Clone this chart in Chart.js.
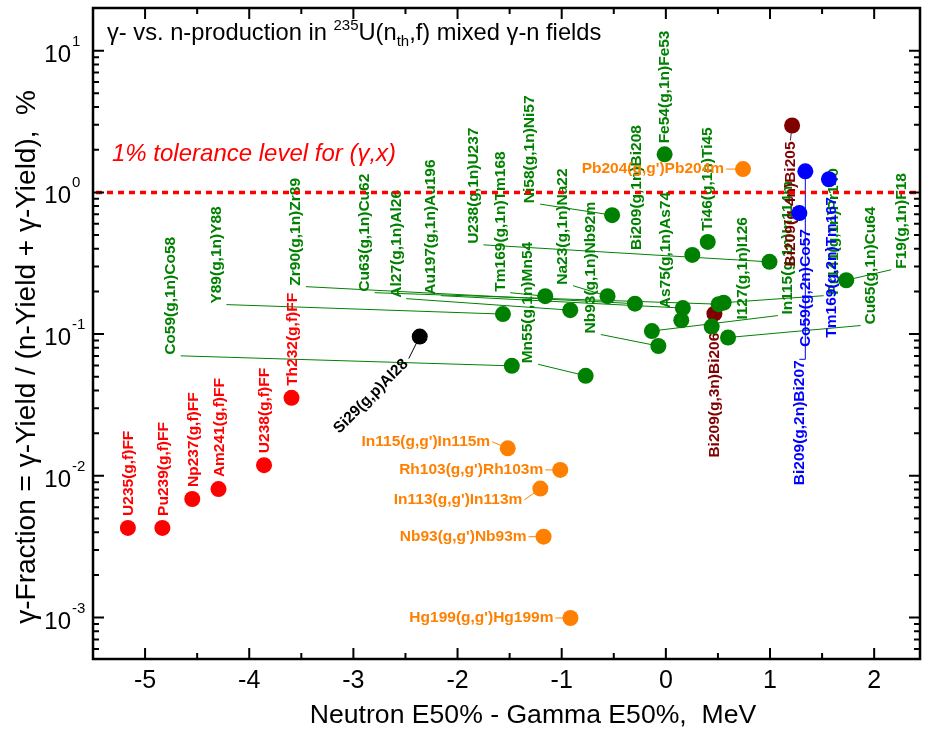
<!DOCTYPE html>
<html>
<head>
<meta charset="utf-8">
<script src="https://cdn.jsdelivr.net/npm/chart.js@4.4.0/dist/chart.umd.min.js"></script>
<style>
html, body { margin: 0; padding: 0; background: #fff; }
canvas { display: block; }
</style>
</head>
<body>
<canvas id="chart" width="928" height="729"></canvas>
<script>
// gamma fraction (%) against E50% difference (MeV)

var fissionNames = ['U235(g,f)FF', 'Pu239(g,f)FF', 'Np237(g,f)FF', 'Am241(g,f)FF', 'U238(g,f)FF', 'Th232(g,f)FF'];
var fissionShift = [-5.165, -4.834, -4.547, -4.295, -3.858, -3.594];
var fissionFrac = [0.00429, 0.00429, 0.00686, 0.00806, 0.0119, 0.0355];

var gnNames = ['Co59(g,1n)Co58', 'Y89(g,1n)Y88', 'Zr90(g,1n)Zr89', 'Cu63(g,1n)Cu62', 'Al27(g,1n)Al26',
    'Au197(g,1n)Au196', 'U238(g,1n)U237', 'Tm169(g,1n)Tm168', 'Ni58(g,1n)Ni57', 'Mn55(g,1n)Mn54',
    'Na23(g,1n)Na22', 'Nb93(g,1n)Nb92m', 'Bi209(g,1n)Bi208', 'Fe54(g,1n)Fe53', 'As75(g,1n)As74',
    'Ti46(g,1n)Ti45', 'I127(g,1n)I126', 'In115(g,1n)In114m', 'Cu65(g,1n)Cu64', 'F19(g,1n)F18',
    'Pr141(g,1n)Pr140'];
var gnShift = [-1.479, -1.564, -0.297, 0.507, -0.918, 0.163, 0.995, -1.158, -0.516, -0.770,
    -0.560, -0.072, 0.254, -0.012, 0.148, 0.402, 0.440, -0.134, 0.597, 1.732, 0.555];
var gnFrac = [0.0597, 0.1384, 0.164, 0.1626, 0.1476, 0.1527, 0.3235, 0.1851, 0.691, 0.0508,
    0.1851, 0.0824, 0.362, 1.855, 0.1252, 0.447, 0.1130, 0.1051, 0.0946, 0.240, 0.1666];

var gpNames = ['Si29(g,p)Al28'];
var gpShift = [-2.363];
var gpFrac = [0.0961];

var isoNames = ["In115(g,g')In115m", "Rh103(g,g')Rh103m", "In113(g,g')In113m", "Nb93(g,g')Nb93m",
    "Hg199(g,g')Hg199m", "Pb204(g,g')Pb204m"];
var isoShift = [-1.518, -1.014, -1.205, -1.174, -0.916, 0.741];
var isoFrac = [0.01563, 0.01101, 0.00813, 0.00372, 0.000993, 1.46];

var bi34Names = ['Bi209(g,4n)Bi205', 'Bi209(g,3n)Bi206'];
var bi34Shift = [1.212, 0.466];
var bi34Frac = [2.965, 0.1394];

var g2nNames = ['Bi209(g,2n)Bi207', 'Co59(g,2n)Co57', 'Tm169(g,2n)Tm167'];
var g2nShift = [1.339, 1.282, 1.566];
var g2nFrac = [1.409, 0.714, 1.238];

var xTicks = [-5, -4, -3, -2, -1, 0, 1, 2];
var yDecades = [1, 0, -1, -2, -3];
var toleranceLevel = 1;

// label placement: pixel offset of the label anchor from its dot, connector flag
var fissionLayout = [[1, -12, 0], [1, -12, 0], [1, -12, 0], [1, -12, 0], [1, -12, 0], [1, -12, 0]];
var gnLayout = [[-341, -11, 1], [-286.5, -10.5, 1], [-339, -18, 1], [-354, -12.5, 1], [-174, -12.5, 1],
    [-252, -13.4, 1], [-296, -18, 1], [-45, -4.5, 1], [-82, -12, 1], [-57.5, -12.5, 1],
    [-44.5, -11.5, 1], [-67.5, -12.5, 1], [-56, -5, 0], [0, -11, 0], [-16, -12, 0],
    [0, -11, 0], [31, -7, 0], [136, -16.5, 1], [142.6, -13, 1], [55, -11.5, 1], [110, -8, 1]];
var gpLayout = [[-14, 25, 1]];
var isoLayout = [[-17.6, -6.6, 1], [-17, 0, 1], [-18, 11.3, 1], [-17, 0, 1], [-17, 0, 1], [-19, 0, 1]];
var bi34Layout = [[-1.7, 16, 1], [0, 19, 1]];
var g2nLayout = [[-6, 189, 2], [6, 16, 0], [2.3, 18, 0]];

var FONT = '"Liberation Sans", Arial, sans-serif';
var labelFont = 'bold 15.5px ' + FONT;

var groups = [
    { names: gnNames, x: gnShift, y: gnFrac, layout: gnLayout, color: '#008000', line: '#008000', mode: 'up' },
    { names: gpNames, x: gpShift, y: gpFrac, layout: gpLayout, color: '#000000', line: '#000000', mode: 'diag' },
    { names: fissionNames, x: fissionShift, y: fissionFrac, layout: fissionLayout, color: '#ff0000', line: '#ff0000', mode: 'up' },
    { names: isoNames, x: isoShift, y: isoFrac, layout: isoLayout, color: '#ff8000', line: '#ff8000', mode: 'left' },
    { names: bi34Names, x: bi34Shift, y: bi34Frac, layout: bi34Layout, color: '#800000', line: '#333333', mode: 'down' },
    { names: g2nNames, x: g2nShift, y: g2nFrac, layout: g2nLayout, color: '#0000ff', line: '#0000ff', mode: 'down' }
];

function toPoints(xs, ys) {
    var pts = [];
    for (var i = 0; i < xs.length; i++) pts.push({ x: xs[i], y: ys[i] });
    return pts;
}

var datasets = groups.map(function(g) {
    return {
        data: toPoints(g.x, g.y),
        backgroundColor: g.color,
        borderWidth: 0,
        pointRadius: 8,
        pointHoverRadius: 8
    };
});

function drawLabels(chart) {
    var ctx = chart.ctx;
    var xs = chart.scales.x, ys = chart.scales.y;
    ctx.save();
    groups.forEach(function(g) {
        for (var i = 0; i < g.names.length; i++) {
            var px = xs.getPixelForValue(g.x[i]);
            var py = ys.getPixelForValue(g.y[i]);
            var lay = g.layout[i];
            var ax = px + lay[0], ay = py + lay[1];

            if (lay[2]) {
                ctx.strokeStyle = g.line;
                ctx.lineWidth = 1;
                ctx.beginPath();
                if (g.mode == 'up') {
                    ctx.moveTo(ax + (px > ax ? 10 : -10), ay + 1);
                } else if (g.mode == 'down') {
                    ctx.moveTo(ax, ay - 1);
                    if (lay[2] == 2) ctx.lineTo(px, ay - 1);
                } else if (g.mode == 'left') {
                    ctx.moveTo(ax + 2, ay);
                } else {
                    ctx.moveTo(ax + 3, ay - 3);
                }
                ctx.lineTo(px, py);
                ctx.stroke();
            }

            ctx.save();
            ctx.translate(ax, ay);
            ctx.fillStyle = g.color;
            ctx.font = labelFont;
            ctx.textBaseline = 'middle';
            if (g.mode == 'up') {
                ctx.rotate(-Math.PI / 2);
                ctx.textAlign = 'left';
            } else if (g.mode == 'down') {
                ctx.rotate(-Math.PI / 2);
                ctx.textAlign = 'right';
            } else if (g.mode == 'left') {
                ctx.textAlign = 'right';
            } else {
                ctx.rotate(-Math.PI / 4);
                ctx.textAlign = 'right';
            }
            ctx.fillText(g.names[i], 0, 0);
            ctx.restore();
        }
    });
    ctx.restore();
}

function drawFrame(chart) {
    var ctx = chart.ctx;
    var a = chart.chartArea;
    var xs = chart.scales.x, ys = chart.scales.y;
    ctx.save();

    // 1% tolerance line
    var ty = ys.getPixelForValue(toleranceLevel);
    ctx.strokeStyle = '#ff0000';
    ctx.lineWidth = 3.5;
    ctx.setLineDash([6, 5]);
    ctx.beginPath();
    ctx.moveTo(a.left + 3, ty);
    ctx.lineTo(a.right - 2, ty);
    ctx.stroke();
    ctx.setLineDash([]);

    ctx.fillStyle = '#ff0000';
    ctx.font = 'italic 24px ' + FONT;
    ctx.textAlign = 'left';
    ctx.textBaseline = 'alphabetic';
    ctx.fillText('1% tolerance level for (\u03b3,x)', 112, 161);

    // frame
    ctx.strokeStyle = '#000';
    ctx.lineWidth = 2.5;
    ctx.strokeRect(a.left, a.top, a.right - a.left, a.bottom - a.top);

    ctx.lineWidth = 2;
    ctx.beginPath();
    // x ticks, bottom and top, inward
    for (var v = -5.5; v <= 2.5; v += 0.5) {
        if (v <= xs.min || v >= xs.max) continue;
        var px = xs.getPixelForValue(v);
        var len = Math.abs(v - Math.round(v)) < 0.01 ? 11 : 6;
        ctx.moveTo(px, a.bottom); ctx.lineTo(px, a.bottom - len);
        ctx.moveTo(px, a.top); ctx.lineTo(px, a.top + len);
    }
    // y ticks, left and right
    for (var e = -4; e <= 1; e++) {
        for (var m = 1; m <= 9; m++) {
            var val = m * Math.pow(10, e);
            if (val <= ys.min || val >= ys.max) continue;
            var py = ys.getPixelForValue(val);
            var l = m == 1 ? 11 : 6;
            ctx.moveTo(a.left, py); ctx.lineTo(a.left + l, py);
            ctx.moveTo(a.right, py); ctx.lineTo(a.right - l, py);
        }
    }
    ctx.stroke();

    // tick labels
    ctx.fillStyle = '#000';
    ctx.font = '25px ' + FONT;
    ctx.textAlign = 'center';
    ctx.textBaseline = 'alphabetic';
    xTicks.forEach(function(t) {
        ctx.fillText(String(t), xs.getPixelForValue(t), 688);
    });
    yDecades.forEach(function(e) {
        var py = ys.getPixelForValue(Math.pow(10, e));
        ctx.font = '24px ' + FONT;
        ctx.textAlign = 'right';
        ctx.fillText('10', 71, py + 11);
        ctx.font = '15px ' + FONT;
        ctx.textAlign = 'left';
        ctx.fillText(String(e), 72, py - 5);
    });

    // axis titles
    ctx.font = '26.6px ' + FONT;
    ctx.textAlign = 'center';
    ctx.fillText('Neutron E50% - Gamma E50%,  MeV', 533, 723);

    ctx.save();
    ctx.font = '28px ' + FONT;
    ctx.translate(35, 90);
    ctx.rotate(-Math.PI / 2);
    ctx.textAlign = 'right';
    ctx.fillText('\u03b3-Fraction = \u03b3-Yield / (n-Yield + \u03b3-Yield),  %', 0, 0);
    ctx.restore();

    // chart title with super/subscripts
    var x = 107, base = 40;
    ctx.textAlign = 'left';
    var parts = [
        ['\u03b3- vs. n-production in ', 23.7, 0],
        ['235', 15, -10],
        ['U(n', 23.7, 0],
        ['th', 15, 6],
        [',f) mixed \u03b3-n fields', 23.7, 0]
    ];
    parts.forEach(function(p) {
        ctx.font = p[1] + 'px ' + FONT;
        ctx.fillText(p[0], x, base + p[2]);
        x += ctx.measureText(p[0]).width;
    });

    ctx.restore();
}

var ctx = document.getElementById('chart').getContext('2d');
var chart = new Chart(ctx, {
    type: 'scatter',
    data: { datasets: datasets },
    options: {
        responsive: false,
        animation: false,
        devicePixelRatio: 1,
        layout: { padding: { left: 93, right: 5, top: 5, bottom: 70 } },
        scales: {
            x: { type: 'linear', min: -5.5, max: 2.44, display: false },
            y: { type: 'logarithmic', min: 0.00051, max: 20, display: false }
        },
        plugins: {
            legend: { display: false },
            tooltip: { enabled: false }
        }
    },
    plugins: [{
        id: 'gammaLabels',
        beforeDatasetsDraw: function(chart) { drawLabels(chart); },
        afterDatasetsDraw: function(chart) { drawFrame(chart); }
    }]
});
</script>
</body>
</html>
